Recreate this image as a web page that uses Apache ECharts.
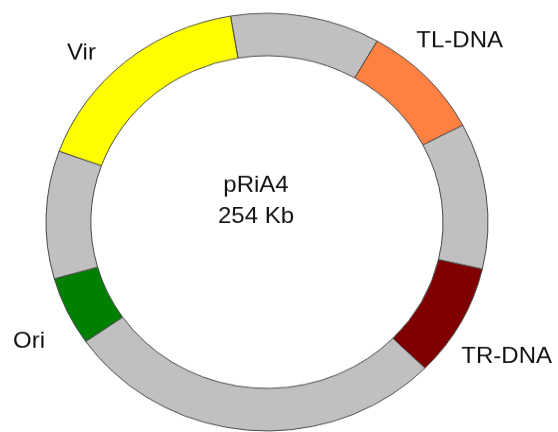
<!DOCTYPE html>
<html>
<head>
<meta charset="utf-8">
<title>pRiA4</title>
<script src="https://cdn.jsdelivr.net/npm/echarts@6/dist/echarts.min.js"></script>
<style>
  html, body { margin: 0; padding: 0; background: #fff; overflow: hidden; }
  /* the source map is slightly wider than tall, so squash the chart a bit */
  #chart {
    width: 558px;
    height: 457px;
    transform: scale(1, 0.945);
    transform-origin: 0 0;
  }
</style>
</head>
<body>
<div id="chart"></div>
<script>
// plasmid segments, clockwise from the top (Vir end), sizes in kb
var segNames = ["", "TL-DNA", "", "TR-DNA", "", "Ori", "", "Vir"];
var segSizes = [27.8, 22.9, 28.7, 22.1, 71.1, 13.5, 25.1, 42.8];
var segColors = ["#C0C0C0", "#FF8040", "#C0C0C0", "#800000", "#C0C0C0", "#008000", "#C0C0C0", "#FFFF00"];
var plasmidName = "pRiA4";
var plasmidSize = "254 Kb";

// label placement: gap = distance out from the ring, edge = distance from page side
var labelPlace = {
  "TL-DNA": { gap: 55, edge: 55 },
  "TR-DNA": { gap: 75, edge: 6 },
  "Ori": { gap: 75, edge: 13 },
  "Vir": { gap: 12, edge: 67 }
};

var font = "'Liberation Sans', Arial, Helvetica, sans-serif";

var chart = echarts.init(document.getElementById("chart"));

var data = segSizes.map(function (v, i) {
  var item = {
    name: segNames[i],
    value: v,
    itemStyle: { color: segColors[i] }
  };
  var p = labelPlace[segNames[i]];
  if (p) {
    item.label = { show: true, edgeDistance: p.edge };
    item.labelLine = { show: false, length: p.gap, length2: 0 };
  } else {
    item.label = { show: false };
  }
  return item;
});

var option = {
  animation: false,
  title: {
    text: plasmidName + "\n" + plasmidSize,
    left: 256,
    top: 180,
    padding: 0,
    textAlign: "center",
    textVerticalAlign: "top",
    textStyle: {
      fontFamily: font,
      fontSize: 24,
      fontWeight: "normal",
      lineHeight: 33,
      color: "#111"
    }
  },
  series: [
    {
      type: "pie",
      center: [267, 235],
      radius: [176, 221],
      startAngle: 99.5,
      clockwise: true,
      avoidLabelOverlap: false,
      silent: true,
      itemStyle: {
        borderColor: "#484848",
        borderWidth: 1
      },
      label: {
        position: "outside",
        alignTo: "edge",
        formatter: "{b}",
        distanceToLabelLine: 0,
        fontFamily: font,
        fontSize: 24,
        color: "#111"
      },
      labelLine: { show: false },
      emphasis: { disabled: true },
      data: data
    }
  ]
};

chart.setOption(option);
</script>
</body>
</html>
